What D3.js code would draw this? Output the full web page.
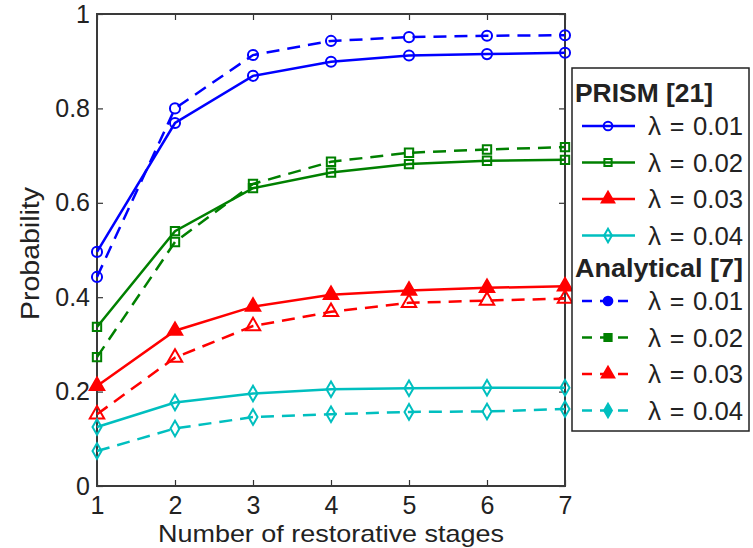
<!DOCTYPE html>
<html>
<head>
<meta charset="utf-8">
<script src="https://cdn.jsdelivr.net/npm/d3@7"></script>
<style>
  body { margin: 0; background: #fff; }
  text { font-family: "Liberation Sans", Arial, Helvetica, sans-serif; fill: #222; }
</style>
</head>
<body>
<div id="chart"></div>
<script>
// stages on the x axis
const stages = [1, 2, 3, 4, 5, 6, 7];
const lambdaLabels = ["0.01", "0.02", "0.03", "0.04"];
const yTicks = [0, 0.2, 0.4, 0.6, 0.8, 1];
const yTickLabels = ["0", "0.2", "0.4", "0.6", "0.8", "1"];

// PRISM [21] (solid)
const prism001 = [0.496, 0.769, 0.869, 0.899, 0.912, 0.915, 0.918];
const prism002 = [0.337, 0.540, 0.631, 0.664, 0.682, 0.689, 0.691];
const prism003 = [0.212, 0.329, 0.380, 0.405, 0.414, 0.420, 0.423];
const prism004 = [0.125, 0.177, 0.196, 0.205, 0.207, 0.208, 0.208];

// Analytical [7] (dashed)
const anal001 = [0.443, 0.800, 0.913, 0.943, 0.951, 0.954, 0.955];
const anal002 = [0.273, 0.517, 0.640, 0.687, 0.706, 0.713, 0.718];
const anal003 = [0.152, 0.272, 0.339, 0.369, 0.388, 0.393, 0.397];
const anal004 = [0.074, 0.122, 0.146, 0.152, 0.157, 0.158, 0.163];

const colors = ["#0000ff", "#008000", "#ff0000", "#00bfbf"];
const symbols = [d3.symbolCircle, d3.symbolSquare, d3.symbolTriangle, d3.symbolDiamond];
const symbolSizes = [80, 70, 90, 70];

const prismSeries = [prism001, prism002, prism003, prism004];
const analSeries = [anal001, anal002, anal003, anal004];

const W = 753, H = 548;
const margin = {top: 14, right: 188, bottom: 62, left: 97};

const svg = d3.select("#chart").append("svg")
  .attr("width", W)
  .attr("height", H);

const x = d3.scaleLinear().domain([1, 7]).range([margin.left, W - margin.right]);
const y = d3.scaleLinear().domain([0, 1]).range([H - margin.bottom, margin.top]);

// axes, matlab style ticks pointing inwards
const axisStyle = g => {
  g.select(".domain").remove();
  g.selectAll(".tick line").attr("stroke", "#333").attr("stroke-width", 1.2);
  g.selectAll(".tick text").attr("font-size", 25).attr("fill", "#222")
    .attr("font-family", "Liberation Sans, Arial, sans-serif");
};

svg.append("g")
  .attr("transform", `translate(0,${y(0)})`)
  .call(d3.axisBottom(x).tickValues(stages).tickFormat(d3.format("d")).tickSize(-6).tickPadding(10))
  .call(axisStyle);

svg.append("g")
  .attr("transform", `translate(0,${y(1)})`)
  .call(d3.axisTop(x).tickValues(stages).tickFormat("").tickSize(-6))
  .call(axisStyle);

svg.append("g")
  .attr("transform", `translate(${x(1)},0)`)
  .call(d3.axisLeft(y).tickValues(yTicks).tickFormat((d, i) => yTickLabels[i]).tickSize(-6).tickPadding(7))
  .call(axisStyle);

svg.append("g")
  .attr("transform", `translate(${x(7)},0)`)
  .call(d3.axisRight(y).tickValues(yTicks).tickFormat("").tickSize(-6))
  .call(axisStyle);

// box
svg.append("rect")
  .attr("x", x(1)).attr("y", y(1))
  .attr("width", x(7) - x(1)).attr("height", y(0) - y(1))
  .attr("fill", "none").attr("stroke", "#3a3a3a").attr("stroke-width", 2);

// axis labels
svg.append("text")
  .attr("x", 158).attr("y", 542)
  .attr("font-size", 24)
  .attr("textLength", 346).attr("lengthAdjust", "spacingAndGlyphs")
  .text("Number of restorative stages");

svg.append("text")
  .attr("transform", `translate(39,320) rotate(-90)`)
  .attr("font-size", 25)
  .attr("textLength", 133).attr("lengthAdjust", "spacingAndGlyphs")
  .text("Probability");

const line = d3.line().x((d, i) => x(stages[i])).y(d => y(d));

function drawSeries(values, i, dashed) {
  const g = svg.append("g");
  g.append("path")
    .datum(values)
    .attr("d", line)
    .attr("fill", "none")
    .attr("stroke", colors[i])
    .attr("stroke-width", 2.5)
    .attr("stroke-dasharray", dashed ? "13,8" : null);
  g.selectAll("path.mark")
    .data(values)
    .enter().append("path")
    .attr("class", "mark")
    .attr("transform", (d, j) => `translate(${x(stages[j])},${y(d)})`)
    .attr("d", d3.symbol().type(symbols[i]).size(symbolSizes[i]))
    .attr("fill", (!dashed && i === 2) ? colors[i] : "none")
    .attr("stroke", colors[i])
    .attr("stroke-width", 2);
}

analSeries.forEach((s, i) => drawSeries(s, i, true));
prismSeries.forEach((s, i) => drawSeries(s, i, false));

// legend
const legend = svg.append("g").attr("class", "legend");
legend.append("rect")
  .attr("x", 572).attr("y", 68).attr("width", 177).attr("height", 363)
  .attr("fill", "#fff").attr("stroke", "#222").attr("stroke-width", 1.5);

const groups = [
  {title: "PRISM [21]", dashed: false, y0: 92, w: 138},
  {title: "Analytical [7]", dashed: true, y0: 267, w: 168}
];

groups.forEach(gr => {
  legend.append("text")
    .attr("x", 575).attr("y", gr.y0 + 10)
    .attr("font-size", 26).attr("font-weight", "bold").attr("fill", "#111")
    .attr("textLength", gr.w).attr("lengthAdjust", "spacingAndGlyphs")
    .text(gr.title);
  lambdaLabels.forEach((lab, i) => {
    const ly = gr.y0 + 34 + i * 36.5;
    legend.append("line")
      .attr("x1", 582).attr("x2", 635).attr("y1", ly).attr("y2", ly)
      .attr("stroke", colors[i]).attr("stroke-width", 2.5)
      .attr("stroke-dasharray", gr.dashed ? "10,8" : null);
    legend.append("path")
      .attr("transform", `translate(608,${ly})`)
      .attr("d", d3.symbol().type(symbols[i]).size(symbolSizes[i] * 0.75))
      .attr("fill", (gr.dashed || i === 2) ? colors[i] : "none")
      .attr("stroke", colors[i]).attr("stroke-width", 2);
    legend.append("text")
      .attr("x", 648).attr("y", ly + 9).attr("font-size", 26)
      .attr("font-family", "Liberation Serif, Times New Roman, serif")
      .text("λ");
    legend.append("text")
      .attr("x", 677).attr("y", ly + 9).attr("font-size", 25)
      .attr("text-anchor", "middle")
      .text("=");
    legend.append("text")
      .attr("x", 693).attr("y", ly + 9).attr("font-size", 25)
      .attr("textLength", 50).attr("lengthAdjust", "spacingAndGlyphs")
      .text(lab);
  });
});
</script>
</body>
</html>
